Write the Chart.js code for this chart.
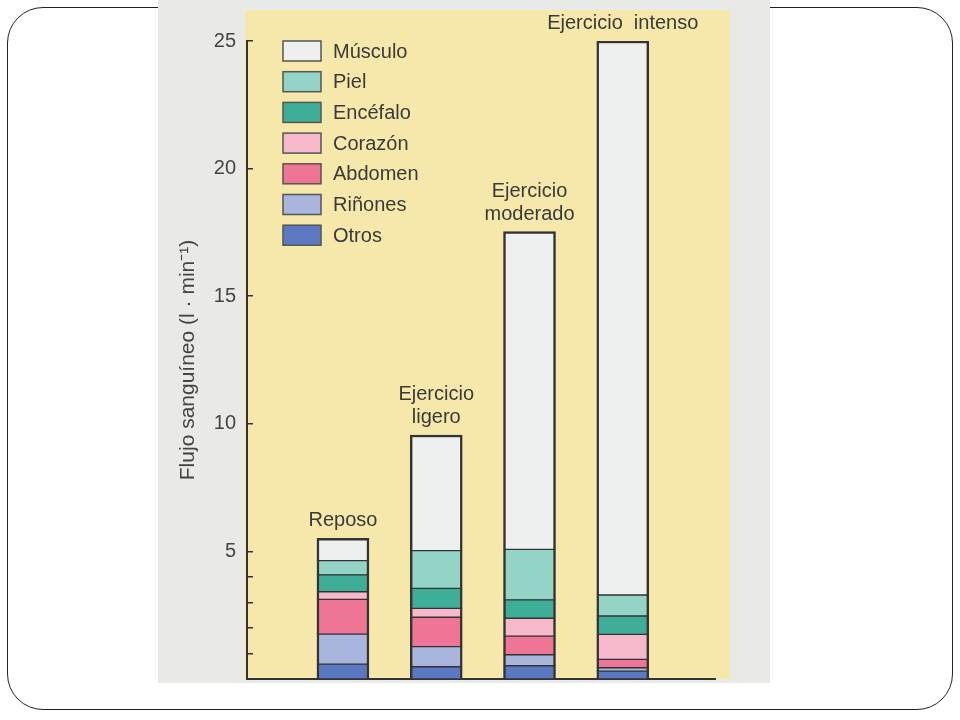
<!DOCTYPE html>
<html>
<head>
<meta charset="utf-8">
<script src="https://cdn.jsdelivr.net/npm/chart.js@4.4.0/dist/chart.umd.min.js"></script>
<style>
  html, body { margin: 0; padding: 0; background: #fff; }
  body { width: 960px; height: 720px; position: relative; overflow: hidden; }
  #frame { position: absolute; left: 7px; top: 7px; width: 946px; height: 703px;
           border: 1.5px solid #222; border-radius: 36px; box-sizing: border-box; }
  #scan  { position: absolute; left: 158px; top: 0; width: 612px; height: 683px; background: #e9e9e7; }
  #paper { position: absolute; left: 87px; top: 10px; width: 485px; height: 669px; background: #f6e7ab; }
  #chart { position: absolute; left: 0; top: 0; }
</style>
</head>
<body>
<div id="frame"></div>
<div id="scan">
  <div id="paper"></div>
  <canvas id="chart" width="612" height="683"></canvas>
</div>

<script>
/* ── data (l·min⁻¹), bottom of stack first ── */
const categories = [['Reposo'], ['Ejercicio', 'ligero'], ['Ejercicio', 'moderado'], ['Ejercicio  intenso']];

const otros    = [0.58, 0.48, 0.52, 0.31];
const rinones  = [1.18, 0.79, 0.43, 0.13];
const abdomen  = [1.36, 1.15, 0.73, 0.33];
const corazon  = [0.30, 0.35, 0.70, 0.98];
const encefalo = [0.66, 0.78, 0.72, 0.72];
const piel     = [0.56, 1.48, 1.98, 0.82];
const musculo  = [0.87, 4.53, 12.45, 21.71];

const yTickValues = [1, 2, 3, 4, 5, 10, 15, 20, 25];

const FONT = '"Liberation Sans", Arial, sans-serif';
const INK  = '#3a3a3a';

const seg = (label, values, fill, top) => ({
  label,
  data: values.map((v, i) => ({ x: i, y: v })),
  backgroundColor: fill,
  borderColor: '#333',
  borderWidth: { top: top || 1, bottom: 1, left: 2.5, right: 2.5 },
  borderSkipped: false,
  barThickness: 52,
});

/* legend drawn inside the plot, top-left */
const legendBox = {
  id: 'legendBox',
  afterDraw(chart) {
    const { ctx, chartArea } = chart;
    const items = chart.data.datasets.slice().reverse();
    const x = chartArea.left + 36;
    ctx.save();
    ctx.font = '20px ' + FONT;
    ctx.textBaseline = 'middle';
    items.forEach((ds, i) => {
      const y = chartArea.top + i * 30.7;
      ctx.fillStyle = ds.backgroundColor;
      ctx.fillRect(x, y, 38, 20);
      ctx.lineWidth = 1.5;
      ctx.strokeStyle = '#555';
      ctx.strokeRect(x, y, 38, 20);
      ctx.fillStyle = INK;
      ctx.fillText(ds.label, x + 50, y + 11);
    });
    ctx.restore();
  }
};

/* condition names above each bar */
const barTitles = {
  id: 'barTitles',
  afterDatasetsDraw(chart) {
    const { ctx } = chart;
    const topMeta = chart.getDatasetMeta(chart.data.datasets.length - 1);
    ctx.save();
    ctx.font = '20px ' + FONT;
    ctx.fillStyle = INK;
    ctx.textAlign = 'center';
    ctx.textBaseline = 'alphabetic';
    categories.forEach((lines, i) => {
      const bar = topMeta.data[i];
      lines.slice().reverse().forEach((t, k) => {
        ctx.fillText(t, bar.x, bar.y - 12 - k * 23);
      });
    });
    ctx.restore();
  }
};

new Chart(document.getElementById('chart'), {
  type: 'bar',
  data: {
    datasets: [
      seg('Otros',    otros,    '#5d78c2'),
      seg('Riñones',  rinones,  '#a9b5dc'),
      seg('Abdomen',  abdomen,  '#ee7596'),
      seg('Corazón',  corazon,  '#f6b8cb'),
      seg('Encéfalo', encefalo, '#3fae98'),
      seg('Piel',     piel,     '#93d4c6'),
      seg('Músculo',  musculo,  '#eef0ef', 2.5),
    ],
  },
  options: {
    responsive: false,
    animation: false,
    layout: { padding: { top: 41, right: 55, bottom: 4, left: 0 } },
    plugins: { legend: { display: false }, tooltip: { enabled: false } },
    scales: {
      x: {
        type: 'linear', stacked: true, min: -0.75, max: 3.71,
        ticks: { display: false },
        grid: { display: false, drawTicks: false },
        border: { display: true, color: '#333', width: 2 },
        afterFit: s => { s.height = 0; },
      },
      y: {
        stacked: true, min: 0, max: 25,
        afterBuildTicks: s => { s.ticks = yTickValues.map(v => ({ value: v })); },
        // fixed axis width, and no label overhang padding at top/bottom
        afterFit: s => { s.width = 89; s.paddingTop = 0; s.paddingBottom = 0; },
        ticks: {
          autoSkip: false,
          callback: v => (v % 5 === 0 ? v : ''),
          font: { family: FONT, size: 20 },
          color: '#444',
          padding: 17,
        },
        grid: { drawOnChartArea: false, tickLength: -6, color: '#333', lineWidth: 1.5 },
        border: { display: true, color: '#333', width: 2 },
        title: {
          display: true,
          text: 'Flujo sanguíneo (l · min⁻¹)',
          font: { family: FONT, size: 21 },
          color: '#444',
          padding: { top: 18, bottom: 0 },
        },
      },
    },
  },
  plugins: [barTitles, legendBox],
});
</script>
</body>
</html>
